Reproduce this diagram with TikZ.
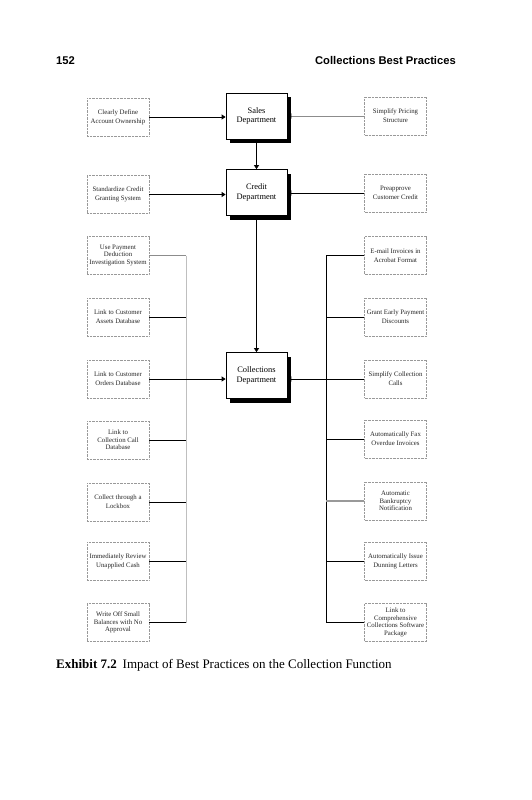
\documentclass[tikz,border=0pt]{standalone}
\usepackage{fontspec}
\setmainfont{Liberation Serif}
\newfontfamily\hdrfont{Liberation Sans}
\usetikzlibrary{arrows.meta,calc,shadows}
\tikzset{
  pbox/.style={draw=black!40, dash pattern=on 0.7pt off 0.7pt, line width=0.6pt,
    minimum width=62pt, minimum height=38pt, inner sep=0pt, align=center,
    text=black!85, font=\fontsize{6.8}{9}\selectfont},
  pboxm/.style={pbox, font=\fontsize{6.8}{7.6}\selectfont},
  dept/.style={draw=black, line width=0.7pt, fill=white, minimum width=61pt,
    minimum height=46pt, inner sep=0pt, align=center,
    font=\fontsize{8.4}{9.8}\selectfont,
    general shadow={fill=black, shadow xshift=4pt, shadow yshift=-4pt}},
  conn/.style={line width=0.8pt, draw=black},
  conng/.style={line width=0.8pt, draw=black!45},
  busg/.style={line width=0.8pt, draw=black!25},
  arr/.style={conn, -{Triangle[length=4pt,width=5pt,black]}},
  arrg/.style={line width=0.8pt, draw=black!45, -{Triangle[length=4pt,width=5pt,black]}},
  hdr/.style={anchor=base, inner sep=0pt, font=\hdrfont\bfseries\fontsize{11.2}{13}\selectfont},
}
\begin{document}
\begin{tikzpicture}[x=1pt,y=-1pt]
\fill[white] (0,0) rectangle (531,800);
\useasboundingbox (0,0) rectangle (531,800);

% header
\node[hdr, anchor=base west] (pg) at (56,64) {152};
\node[hdr, anchor=base east] (hd) at (456,64) {Collections Best Practices};

% departments
\node[dept] (sales) at (256.5,116) {Sales\\Department};
\node[dept] (credit) at (256.5,192.5) {Credit\\Department};
\node[dept] (coll) at (256.5,375.5) {Collections\\Department};

% left boxes
\node[pbox]  (l1) at (118,117)   {Clearly Define\\Account Ownership};
\node[pbox]  (l2) at (118,194.5) {Standardize Credit\\Granting System};
\node[pboxm] (l3) at (118,255.5) {Use Payment\\Deduction\\Investigation System};
\node[pbox]  (l4) at (118,317)   {Link to Customer\\Assets Database};
\node[pbox]  (l5) at (118,379)   {Link to Customer\\Orders Database};
\node[pboxm] (l6) at (118,440)   {Link to\\Collection Call\\Database};
\node[pbox]  (l7) at (118,502)   {Collect through a\\Lockbox};
\node[pbox]  (l8) at (118,561)   {Immediately Review\\Unapplied Cash};
\node[pboxm] (l9) at (118,622.5) {Write Off Small\\Balances with No\\Approval};

% right boxes
\node[pbox]  (r1) at (395.5,116)   {Simplify Pricing\\Structure};
\node[pbox]  (r2) at (395.5,193)   {Preapprove\\Customer Credit};
\node[pbox]  (r3) at (395.5,255.5) {E-mail Invoices in\\Acrobat Format};
\node[pbox]  (r4) at (395.5,317)   {Grant Early Payment\\Discounts};
\node[pbox]  (r5) at (395.5,379)   {Simplify Collection\\Calls};
\node[pbox]  (r6) at (395.5,439)   {Automatically Fax\\Overdue Invoices};
\node[pboxm] (r7) at (395.5,501)   {Automatic\\Bankruptcy\\Notification};
\node[pbox]  (r8) at (395.5,561)   {Automatically Issue\\Dunning Letters};
\node[pboxm] (r9) at (395.5,622.5) {Link to\\Comprehensive\\Collections Software\\Package};

% bus positions
\coordinate (lb) at (186,0);
\coordinate (rb) at (326,0);

% upper connectors
\draw[arr] (l1.east) -- (l1.east -| sales.west);
\draw[arrg] (r1.west) -- (r1.west -| sales.east);
\draw[arr] (sales.south) -- (credit.north);
\draw[arr] (l2.east) -- (l2.east -| credit.west);
\draw[arr] (r2.west) -- (r2.west -| credit.east);
\draw[arr] (credit.south) -- (coll.north);

% left bus
\draw[busg] (l3.east -| lb) -- (l9.east -| lb);
\draw[conng] (l3.east) -- (l3.east -| lb);
\draw[conn] (l4.east) -- (l4.east -| lb);
\draw[conn] (l6.east) -- (l6.east -| lb);
\draw[conn] (l7.east) -- (l7.east -| lb);
\draw[conn] (l8.east) -- (l8.east -| lb);
\draw[conn] (l9.east) -- (l9.east -| lb);
\draw[arr] (l5.east) -- (l5.east -| coll.west);

% right bus
\draw[conn] (r3.west -| rb) -- (r9.west -| rb);
\draw[conn] (r3.west) -- (r3.west -| rb);
\draw[conn] (r4.west) -- (r4.west -| rb);
\draw[conn] (r6.west) -- (r6.west -| rb);
\draw[line width=1.4pt, draw=black!40] (r7.west) -- (r7.west -| rb);
\draw[conn] (r8.west) -- (r8.west -| rb);
\draw[conn] (r9.west) -- (r9.west -| rb);
\draw[arr] (r5.west) -- (r5.west -| coll.east);

% caption
\node[anchor=base west, inner sep=0pt, font=\fontsize{13}{15}\selectfont] (cap) at (56,668)
  {\textbf{Exhibit 7.2}\hspace{0.45em}Impact of Best Practices on the Collection Function};
\end{tikzpicture}
\end{document}
